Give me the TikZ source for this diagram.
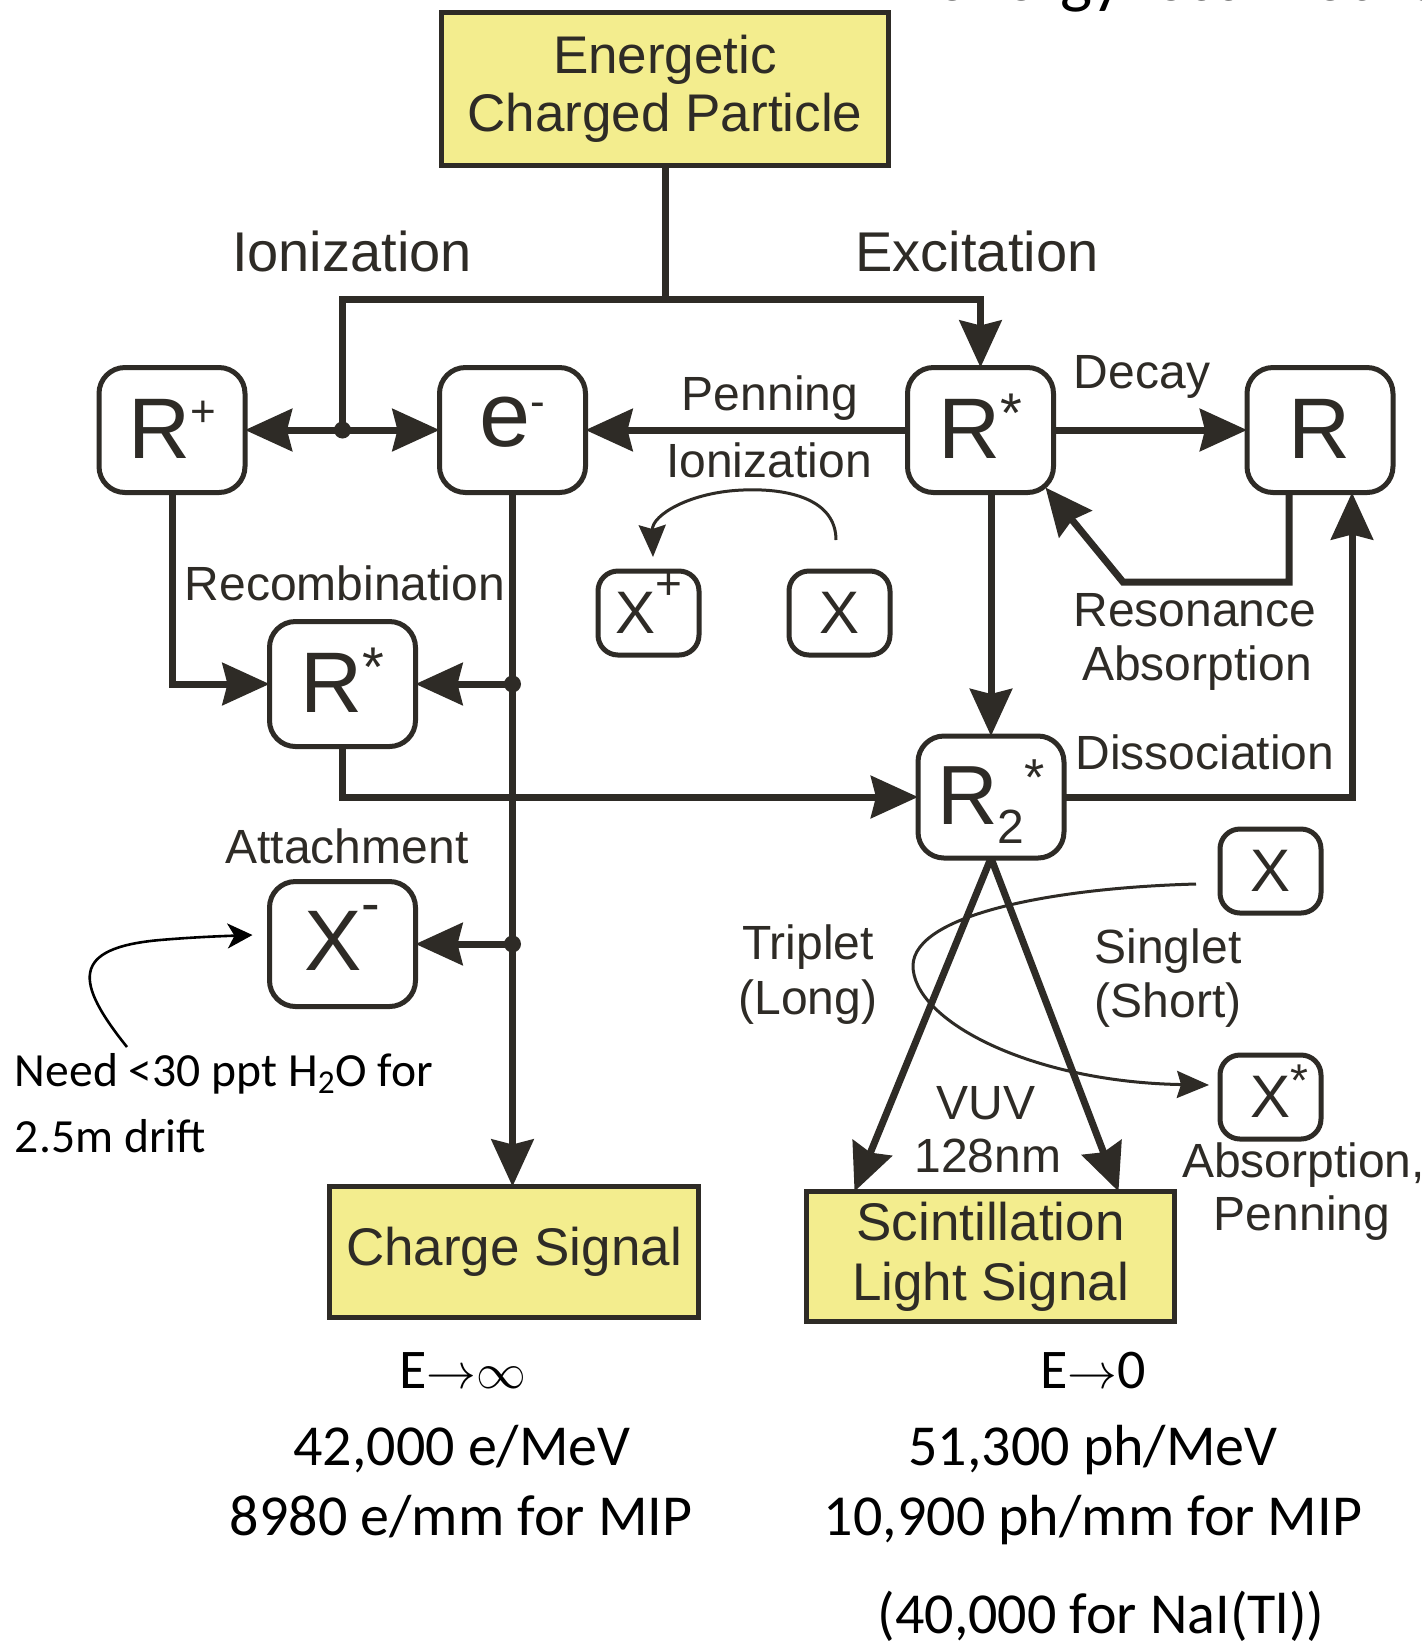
\documentclass[tikz,border=0pt]{standalone}
\usepackage{fontspec}
\setmainfont{Liberation Sans}
\newfontfamily\calibfont{Carlito}
\usetikzlibrary{arrows.meta,calc}
\definecolor{ink}{RGB}{46,43,38}
\definecolor{signalfill}{RGB}{243,237,142}
\newcommand{\setsz}[2]{\fontsize{#1pt}{#2pt}\selectfont}
% raised small glyph: raise, size, glyph
\newcommand{\upby}[3]{\raisebox{#1pt}{\setsz{#2}{#2}#3}}

\begin{document}
\begin{tikzpicture}[x=0.5pt,y=-0.5pt,
  every node/.style={inner sep=0pt, outer sep=0pt, text=ink},
  sigbox/.style={draw=ink, line width=2.5pt, fill=signalfill, align=center, font=\setsz{26.5}{29}},
  rbox/.style={draw=ink, line width=2.5pt, fill=white, rounded corners=13pt, minimum width=73pt, minimum height=62.5pt, text height=28pt, text depth=0pt, font=\setsz{43}{43}},
  xbox/.style={draw=ink, line width=2.5pt, fill=white, rounded corners=10pt, minimum width=50.5pt, minimum height=42pt, text height=20pt, text depth=0pt, font=\setsz{30}{30}},
  lbl/.style={anchor=base, font=\setsz{24}{27}},
  conn/.style={draw=ink, line width=3.5pt},
  bighead/.style={-{Stealth[length=23.5pt,width=21pt,inset=2.5pt]}},
  thinarrow/.style={draw=ink, line width=1.5pt, -{Stealth[length=16pt,width=13.5pt,inset=2pt]}},
  jdot/.style={circle, fill=ink, minimum size=8.5pt},
  note/.style={anchor=base west, text=black, font=\calibfont\setsz{23.8}{28}},
  stat/.style={anchor=base, text=black, font=\calibfont\setsz{29}{34}},
]
\useasboundingbox (0,0) rectangle (1422,1646);
\fill[white] (0,0) rectangle (1422,1646);
\clip (0,0) rectangle (1422,1646);

% heading fragment running off the top edge
\node[anchor=base west, text=black, font=\calibfont\setsz{34}{34}] (ttl) at (934,0) {energy loss mechanisms};

% source
\node[sigbox, minimum width=223.5pt, minimum height=76.5pt] (src) at (665,89) {Energetic\\Charged Particle};

% species
\node[rbox] (Rp) at (172,430) {R\upby{16}{22}{+}};
\node[rbox, text height=16pt, font=\setsz{46}{46}] (el) at (512.5,430) {e\upby{15}{22}{-}};
\node[rbox] (Rx) at (342.5,684) {R\upby{13}{28}{*}};
\node[rbox, text height=26pt] (Xn) at (342.5,944) {X\upby{24}{28}{-}};
\node[rbox] (Rr) at (980.5,430) {R\upby{13}{28}{*}};
\node[rbox] (Rg) at (1320,430) {R};
\node[rbox, minimum height=61pt, text height=27pt, font=\setsz{42}{42}] (Rd) at (991,797)
  {R\raisebox{-9.5pt}{\setsz{24}{24}2}\upby{14.5}{26}{*}};

\node[xbox] (Xp) at (648.5,613) {X\upby{17}{23}{+}};
\node[xbox] (Xa) at (839.5,613) {X};
\node[xbox] (Xb) at (1270.5,871) {X};
\node[xbox] (Xs) at (1270.5,1097) {X\rlap{\upby{10.5}{23}{*}}};

% signals
\node[sigbox, minimum width=184.5pt, minimum height=65.5pt] (chg) at (514,1252) {Charge Signal};
\node[sigbox, minimum width=184pt, minimum height=65pt, font=\setsz{26.5}{30}] (sci) at (990.5,1256.5) {Scintillation\\Light Signal};

% ionization / excitation split
\coordinate (split) at (665,299);
\node[jdot] (J1) at (Rx |- Rp) {};
\draw[conn] (src.south) -- (split);
\draw[conn, bighead] (J1.center) |- (split) -| (Rr.north);
\draw[conn, bighead] (J1.center) -- (Rp.east);
\draw[conn, bighead] (J1.center) -- (el.west);

% penning ionization and decay
\draw[conn, bighead] (Rr.west) -- (el.east);
\draw[conn, bighead] (Rr.east) -- (Rg.west);

% recombination and attachment
\draw[conn, bighead] (Rp.south) |- (Rx.west);
\draw[conn, bighead] (el.south) -- (el.south |- chg.north);
\node[jdot] (J2) at (el.south |- Rx.east) {};
\node[jdot] (J3) at (el.south |- Xn.east) {};
\draw[conn, bighead] (J2.center) -- (Rx.east);
\draw[conn, bighead] (J3.center) -- (Xn.east);

% excimer formation
\draw[conn, bighead] (Rx.south) |- (Rd.west);
\draw[conn, bighead] (Rd.north |- Rr.south) -- (Rd.north);

% dissociation
\coordinate (dissUp) at ($(Rg.south)+(32,0)$);
\draw[conn, bighead] (Rd.east) -| (dissUp);

% resonance absorption
\coordinate (resDown) at ($(Rg.south)+(-31,0)$);
\coordinate (resBend) at (1123,582);
\coordinate (resTip) at ($(Rr.south east)+(-8,-5)$);
\draw[conn, bighead] (resDown) |- (resBend) -- (resTip);

% triplet / singlet emission
\coordinate (tripEnd) at ($(sci.north west)+(48,0)$);
\coordinate (singEnd) at ($(sci.north east)+(-56,0)$);
\draw[conn, bighead] (Rd.south) -- (tripEnd);
\draw[conn, bighead] (Rd.south) -- (singEnd);

% X -> X+ (penning)
\coordinate (penFrom) at ($(Xa.north)+(-3.5,-31)$);
\coordinate (penTo) at ($(Xp.north)+(4.5,-14)$);
\draw[thinarrow] (penFrom) .. controls (836,500) and (790,488) .. (743,490)
  .. controls (690,492) and (652,515) .. (penTo);

% X -> X* (absorption)
\coordinate (qFrom) at ($(Xb.west)+(-24,13)$);
\coordinate (qTo) at ($(Xs.west)+(-11,-12)$);
\draw[thinarrow] (qFrom) .. controls (1050,888) and (915,915) .. (913,965)
  .. controls (912,1020) and (1030,1082) .. (qTo);

% process labels
\node[lbl, font=\setsz{28}{30}] (ionL) at (352,271) {Ionization};
\node[lbl, font=\setsz{28}{30}] (excL) at (977,271) {Excitation};
\node[lbl] (pen1) at (770,410) {Penning};
\node[lbl] (pen2) at (769,477) {Ionization};
\node[lbl] (decL) at (1142,388) {Decay};
\node[lbl] (recL) at (345,600) {Recombination};
\node[lbl] (res1) at (1195,626) {Resonance};
\node[lbl] (res2) at (1197,680) {Absorption};
\node[lbl] (disL) at (1205,769) {Dissociation};
\node[lbl] (attL) at (347,863) {Attachment};
\node[lbl] (trp1) at (808,959) {Triplet};
\node[lbl] (trp2) at (808,1014) {(Long)};
\node[lbl] (sng1) at (1168,963) {Singlet};
\node[lbl] (sng2) at (1168,1017) {(Short)};
\node[lbl] (vuv1) at (986,1119) {VUV};
\node[lbl] (vuv2) at (988,1172) {128nm};
\node[lbl, anchor=base west] (abs1) at (1182,1177) {Absorption,};
\node[lbl] (abs2) at (1302,1230) {Penning};

% purity note
\node[note] (need) at (15,1086) {Need <30 ppt H\textsubscript{2}O for};
\node[note] (need2) at (15,1152) {2.5m drift};
\coordinate (needFrom) at ($(need.base west)+(112,-39)$);
\coordinate (needTip) at ($(Xn.west)+(-17,-9)$);
\draw[black, line width=1.3pt, -{Stealth[length=12.5pt,width=12.5pt,inset=3.5pt]}]
  (needFrom) .. controls (75,982) and (70,948) .. (160,940)
  .. controls (195,937) and (225,936) .. (needTip);

% yields
\node[stat, font=\calibfont\setsz{28}{34}] (einf) at (463,1388) {E$\mathord{\rightarrow}\infty$};
\node[stat] (qy1) at (462,1465) {42,000 e/MeV};
\node[stat] (qy2) at (461,1535) {8980 e/mm for MIP};
\node[stat, font=\calibfont\setsz{28}{34}] (ezero) at (1093,1388) {E$\mathord{\rightarrow}$0};
\node[stat] (ly1) at (1093,1465) {51,300 ph/MeV};
\node[stat] (ly2) at (1093,1535) {10,900 ph/mm for MIP};
\node[stat] (ly3) at (1101,1633) {(40,000 for NaI(Tl))};
\end{tikzpicture}
\end{document}
